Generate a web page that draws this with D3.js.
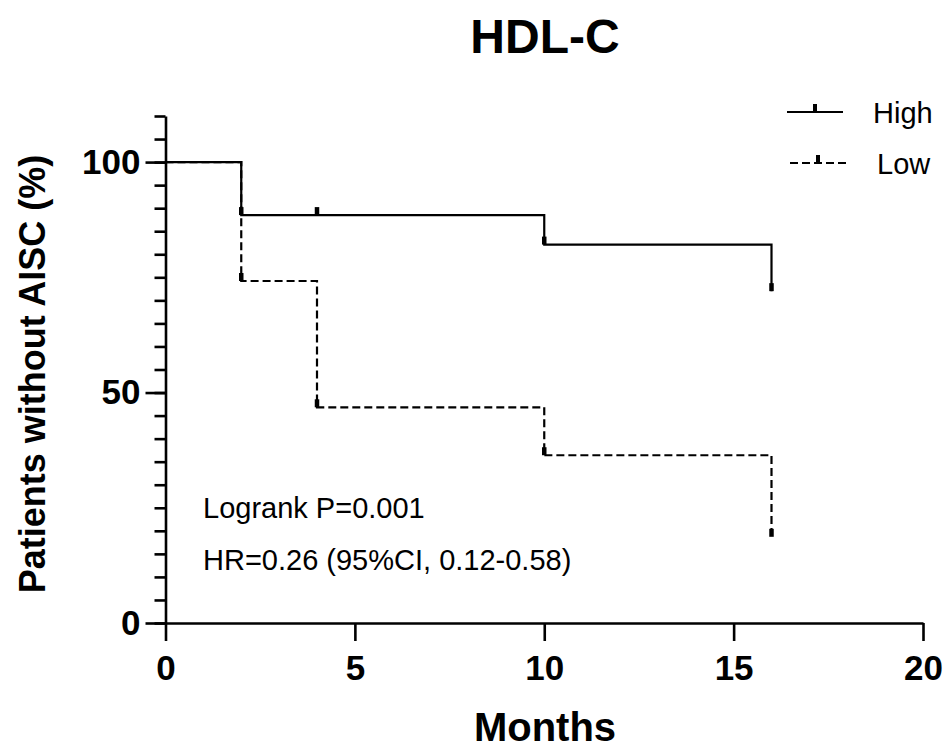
<!DOCTYPE html>
<html>
<head>
<meta charset="utf-8">
<script src="https://cdn.jsdelivr.net/npm/d3@7"></script>
<style>
  body { margin: 0; background: #fff; }
  text { font-family: "Liberation Sans", Arial, sans-serif; fill: #000; }
</style>
</head>
<body>
<script>
const width = 950;
const height = 749;

// KM steps (months, % without AISC)
const highTimes = [0, 2, 10, 16];
const highSurv = [100, 88.5, 82.1, 72];
const highCensor = [2, 4, 10, 16];

const lowTimes = [0, 2, 4, 10, 16];
const lowSurv = [100, 74.2, 46.8, 36.4, 18.7];
const lowCensor = [2, 4, 10, 16];

const xTicks = [0, 5, 10, 15, 20];
const yTicks = [0, 50, 100];
const yMinor = d3.range(0, 111, 5);

const annotations = ["Logrank P=0.001", "HR=0.26 (95%CI, 0.12-0.58)"];

const svg = d3.select("body").append("svg")
  .attr("width", width)
  .attr("height", height);

const x = d3.scaleLinear().domain([0, 20]).range([165.5, 923]);
const y = d3.scaleLinear().domain([0, 110]).range([623, 116]);

// survival value at time t (step function)
function survAt(times, surv, t) {
  let v = surv[0];
  for (let i = 0; i < times.length; i++) {
    if (times[i] <= t) v = surv[i];
  }
  return v;
}

// axes
const yMinorAxis = d3.axisLeft(y).tickValues(yMinor).tickSize(11).tickSizeOuter(0).tickFormat("");
svg.append("g")
  .attr("transform", `translate(${x(0)},0)`)
  .call(yMinorAxis)
  .call(g => g.select(".domain").remove());

const yAxis = d3.axisLeft(y).tickValues(yTicks).tickSize(20).tickSizeOuter(0).tickPadding(5);
svg.append("g")
  .attr("class", "yaxis")
  .attr("transform", `translate(${x(0)},0)`)
  .call(yAxis);

const xAxis = d3.axisBottom(x).tickValues(xTicks).tickSize(18).tickSizeOuter(0).tickPadding(14);
svg.append("g")
  .attr("class", "xaxis")
  .attr("transform", `translate(0,${y(0)})`)
  .call(xAxis);

svg.selectAll(".domain, .tick line")
  .attr("stroke", "#000")
  .attr("stroke-width", 2.6);

svg.selectAll(".tick text")
  .attr("font-size", 35)
  .attr("font-weight", "bold")
  .attr("font-family", "Liberation Sans, Arial, sans-serif");

// curves
const line = d3.line()
  .x(d => x(d[0]))
  .y(d => y(d[1]))
  .curve(d3.curveStepAfter);

const series = [
  { name: "High", times: highTimes, surv: highSurv, censor: highCensor, dash: null },
  { name: "Low", times: lowTimes, surv: lowSurv, censor: lowCensor, dash: "8,4" }
];

series.forEach(s => {
  const pts = s.times.map((t, i) => [t, s.surv[i]]);
  svg.append("path")
    .datum(pts)
    .attr("d", line)
    .attr("fill", "none")
    .attr("stroke", "#000")
    .attr("stroke-width", 2.2)
    .attr("stroke-dasharray", s.dash);

  svg.selectAll(".censor-" + s.name)
    .data(s.censor)
    .enter()
    .append("line")
    .attr("class", "censor-" + s.name)
    .attr("x1", d => x(d))
    .attr("x2", d => x(d))
    .attr("y1", d => y(survAt(s.times, s.surv, d)))
    .attr("y2", d => y(survAt(s.times, s.surv, d)) - 8)
    .attr("stroke", "#000")
    .attr("stroke-width", 4.5);
});

// legend
const legend = svg.append("g");
const legendRows = [
  { name: "High", dash: null, x1: 787, x2: 843, y: 112, tx: 873 },
  { name: "Low", dash: "8,4", x1: 790, x2: 846, y: 163, tx: 877 }
];
legendRows.forEach(r => {
  legend.append("line")
    .attr("x1", r.x1).attr("x2", r.x2)
    .attr("y1", r.y).attr("y2", r.y)
    .attr("stroke", "#000")
    .attr("stroke-width", 2.2)
    .attr("stroke-dasharray", r.dash);
  legend.append("line")
    .attr("x1", (r.x1 + r.x2) / 2).attr("x2", (r.x1 + r.x2) / 2)
    .attr("y1", r.y).attr("y2", r.y - 8)
    .attr("stroke", "#000")
    .attr("stroke-width", 4);
  legend.append("text")
    .attr("x", r.tx)
    .attr("y", r.y + 11)
    .attr("font-size", 29)
    .text(r.name);
});

// annotations
svg.selectAll(".annot")
  .data(annotations)
  .enter()
  .append("text")
  .attr("class", "annot")
  .attr("x", 203)
  .attr("y", (d, i) => 518 + i * 52)
  .attr("font-size", 29)
  .text(d => d);

// titles
svg.append("text")
  .attr("x", 545)
  .attr("y", 53)
  .attr("text-anchor", "middle")
  .attr("font-size", 48)
  .attr("font-weight", "bold")
  .text("HDL-C");

svg.append("text")
  .attr("x", 545)
  .attr("y", 741)
  .attr("text-anchor", "middle")
  .attr("font-size", 40)
  .attr("font-weight", "bold")
  .text("Months");

svg.append("text")
  .attr("transform", "translate(45,374) rotate(-90)")
  .attr("text-anchor", "middle")
  .attr("font-size", 36)
  .attr("font-weight", "bold")
  .text("Patients without AISC (%)");
</script>
</body>
</html>
